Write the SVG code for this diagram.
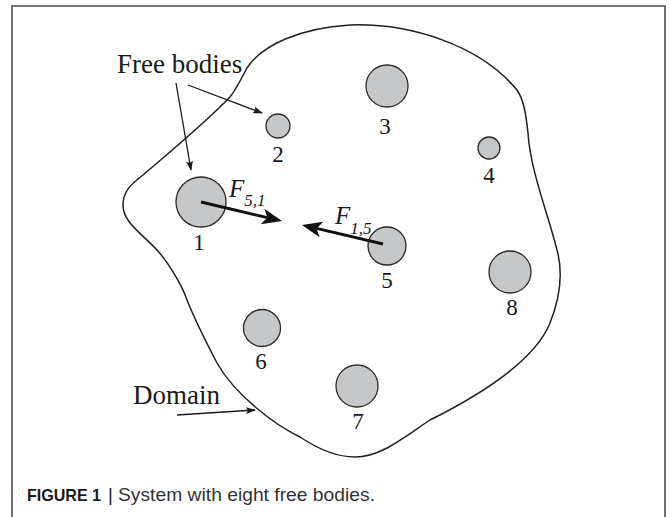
<svg xmlns="http://www.w3.org/2000/svg" width="670" height="517" viewBox="0 0 670 517">
<style>
.body{fill:#c6c7c9;stroke:#2a2a2a;stroke-width:1.3}
.num{font-family:"Liberation Serif",serif;font-size:23px;fill:#1a1a1a;text-anchor:middle}
.lbl{font-family:"Liberation Serif",serif;font-size:27px;fill:#1a1a1a}
.fl{font-family:"Liberation Serif",serif;font-style:italic;fill:#1a1a1a;font-size:25px}
.sub{font-size:17px}
.thin{stroke:#1a1a1a;stroke-width:1.3;fill:none}
.force{stroke:#111;stroke-width:3;fill:none}
.cap{font-family:"Liberation Sans",Arial,sans-serif;font-size:18.5px;fill:#333}
</style>
<defs>
<marker id="big" markerUnits="userSpaceOnUse" markerWidth="24" markerHeight="18" refX="5" refY="8" orient="auto">
<path d="M0,0 L20,8 L0,16 L5,8 Z" fill="#111"/>
</marker>
<marker id="small" markerUnits="userSpaceOnUse" markerWidth="12" markerHeight="10" refX="9" refY="3.5" orient="auto">
<path d="M0,0 L10,3.5 L0,7 L2,3.5 Z" fill="#1a1a1a"/>
</marker>
</defs>
<rect x="0" y="0" width="670" height="517" fill="#fff"/>
<path d="M12,520 V6 H665 V520" fill="none" stroke="#4d4d4d" stroke-width="1.6"/>
<g id="domain">
<path d="M247,68 C262,45 300,28 350,25 C410,23 480,45 517,90 C524,100 526,115 528,133 C530,170 550,220 557,250 C562,268 563,290 550,323 C535,360 480,395 430,420 C400,440 380,457 355,457 C335,457 315,447 300,437 C275,425 235,395 217,363 C205,340 195,320 187,300 C182,285 168,262 157,250 C140,232 123,222 123,205 C123,192 130,185 143,175 C160,160 200,128 230,97 C237,88 242,77 247,68 Z" fill="none" stroke="#1f1f1f" stroke-width="1.5"/>
</g>
<g id="body1"><circle class="body" cx="201" cy="202" r="25"/><text class="num" x="199" y="250">1</text></g>
<g id="body2"><circle class="body" cx="278" cy="126" r="12"/><text class="num" x="278" y="162">2</text></g>
<g id="body3"><circle class="body" cx="387" cy="86" r="21"/><text class="num" x="385" y="134">3</text></g>
<g id="body4"><circle class="body" cx="489" cy="148" r="11"/><text class="num" x="489" y="183">4</text></g>
<g id="body5"><circle class="body" cx="387" cy="246" r="19"/><text class="num" x="387" y="288">5</text></g>
<g id="body6"><circle class="body" cx="262" cy="328" r="18.5"/><text class="num" x="261" y="369">6</text></g>
<g id="body7"><circle class="body" cx="357" cy="386" r="21"/><text class="num" x="358" y="429">7</text></g>
<g id="body8"><circle class="body" cx="510" cy="272" r="21"/><text class="num" x="512" y="315">8</text></g>
<g id="labels">
<text class="lbl" x="117" y="73">Free bodies</text>
<text class="lbl" x="133" y="404">Domain</text>
<text class="fl" x="229" y="197">F<tspan class="sub" dy="9">5,1</tspan></text>
<text class="fl" x="335" y="224">F<tspan class="sub" dy="10">1,5</tspan></text>
</g>
<g id="connectors">
<line class="force" x1="201" y1="202" x2="267.4" y2="217.6" marker-end="url(#big)"/>
<line class="force" x1="383" y1="244" x2="316.6" y2="228.4" marker-end="url(#big)"/>
<line class="thin" x1="176" y1="83" x2="191" y2="170" marker-end="url(#small)"/>
<line class="thin" x1="188" y1="85" x2="262" y2="113" marker-end="url(#small)"/>
<line class="thin" x1="177" y1="415" x2="255" y2="410" marker-end="url(#small)"/>
</g>
<g id="caption">
<text class="cap" y="501"><tspan x="27" font-size="16.5" font-weight="bold" fill="#1a1a1a" textLength="74" lengthAdjust="spacingAndGlyphs">FIGURE 1</tspan><tspan x="108" fill="#1a1a1a">|</tspan><tspan x="118" textLength="257" lengthAdjust="spacingAndGlyphs">System with eight free bodies.</tspan></text>
</g>
</svg>
